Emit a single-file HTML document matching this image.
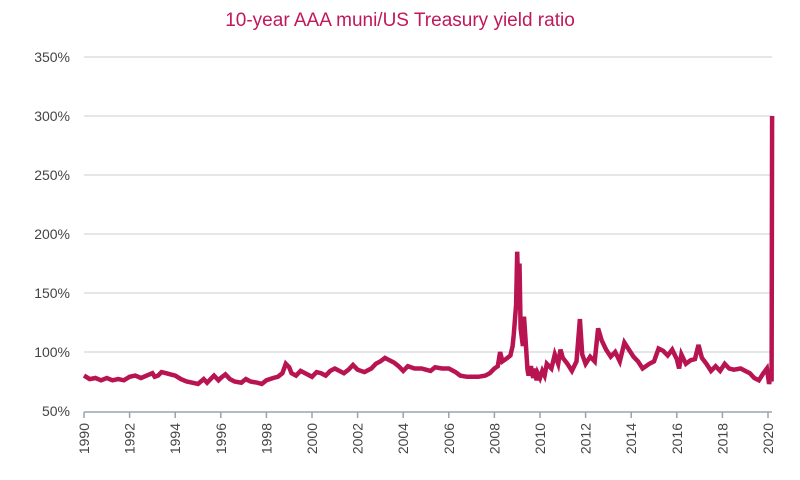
<!DOCTYPE html>
<html><head><meta charset="utf-8"><style>
body{margin:0;background:#fff;}
svg{display:block;font-family:"Liberation Sans",sans-serif;}
</style></head><body>
<svg id="chart" width="800" height="480" viewBox="0 0 800 480">
<text x="400" y="26" text-anchor="middle" font-size="19" fill="#c0185a">10-year AAA muni/US Treasury yield ratio</text>
<g id="grid"></g><g id="yaxis"></g><g id="xaxis"></g><g id="series"></g>
</svg>
<script>
const years=[1990,1990.25,1990.5,1990.75,1991,1991.25,1991.5,1991.75,1992,1992.25,1992.5,1992.75,1993,1993.1,1993.25,1993.4,1993.6,1993.8,1994,1994.25,1994.5,1994.75,1995,1995.25,1995.4,1995.7,1995.9,1996,1996.2,1996.4,1996.6,1996.9,1997.1,1997.3,1997.6,1997.8,1998,1998.3,1998.5,1998.7,1998.85,1999,1999.1,1999.3,1999.5,1999.7,2000,2000.2,2000.4,2000.6,2000.8,2001,2001.2,2001.4,2001.6,2001.8,2002,2002.3,2002.6,2002.8,2003,2003.2,2003.4,2003.6,2003.8,2004,2004.2,2004.5,2004.8,2005,2005.2,2005.4,2005.7,2006,2006.3,2006.5,2006.8,2007,2007.3,2007.6,2007.8,2008,2008.15,2008.25,2008.35,2008.5,2008.7,2008.8,2008.85,2008.95,2009,2009.05,2009.1,2009.15,2009.25,2009.3,2009.35,2009.45,2009.5,2009.6,2009.7,2009.75,2009.85,2009.9,2010.0,2010.1,2010.2,2010.3,2010.5,2010.65,2010.8,2010.9,2011,2011.2,2011.4,2011.6,2011.75,2011.85,2012,2012.2,2012.4,2012.55,2012.7,2012.9,2013.1,2013.3,2013.5,2013.7,2013.9,2014.1,2014.3,2014.5,2014.8,2015,2015.2,2015.4,2015.6,2015.8,2016,2016.1,2016.2,2016.4,2016.6,2016.8,2016.95,2017.1,2017.3,2017.5,2017.7,2017.9,2018.1,2018.3,2018.5,2018.8,2019,2019.2,2019.4,2019.6,2019.8,2019.95,2020.05,2020.12,2020.16,2020.18];
const ratios=[80,77,78,76,78,76,77,76,79,80,78,80,82,79,80,83,82,81,80,77,75,74,73,77,74,80,76,78,81,77,75,74,77,75,74,73,76,78,79,82,90,87,82,80,84,82,79,83,82,80,84,86,84,82,85,89,85,83,86,90,92,95,93,91,88,84,88,86,86,85,84,87,86,86,83,80,79,79,79,80,82,86,88,100,92,94,97,105,115,140,185,150,175,120,105,130,115,85,80,88,78,86,76,82,78,84,80,90,86,98,90,102,95,90,84,92,128,98,90,96,92,120,110,102,96,100,92,108,102,96,92,86,90,92,103,101,97,102,94,86,98,90,93,94,106,95,90,84,88,84,90,86,85,86,84,82,78,76,82,86,73,80,75,300];
const yTicks=[50,100,150,200,250,300,350];
const xTicks=[1990,1992,1994,1996,1998,2000,2002,2004,2006,2008,2010,2012,2014,2016,2018,2020];
const NS="http://www.w3.org/2000/svg";
const xS=y=>84+(y-1990)*(684/30);
const yS=v=>411-(v-50)*(59/50);
function mk(t,a,p){const e=document.createElementNS(NS,t);for(const k in a)e.setAttribute(k,a[k]);p.appendChild(e);return e;}
const grid=document.getElementById('grid'),ya=document.getElementById('yaxis'),xa=document.getElementById('xaxis'),se=document.getElementById('series');
yTicks.forEach(v=>{
 if(v>50){const l=mk('line',{x1:84,x2:772,y1:yS(v),y2:yS(v),stroke:'#c8cdd2','stroke-width':1},grid);
 
 }
 const t=mk('text',{x:70,y:yS(v)+5,'text-anchor':'end','font-size':14,fill:'#444'},ya);
 t.textContent=v+'%';
 
 
});
const ax=mk('line',{x1:84,x2:772,y1:412,y2:412,stroke:'#9aa3ab','stroke-width':1.5},xa);


xTicks.forEach(y=>{
 const x=xS(y);
 mk('line',{x1:x,x2:x,y1:412,y2:418,stroke:'#9aa3ab','stroke-width':1.5},xa);
 const t=mk('text',{transform:`translate(${x+5},423) rotate(-90)`,'text-anchor':'end','font-size':14,fill:'#444'},xa);
 t.textContent=y;
 
 
});
const d=years.map((y,i)=>(i?'L':'M')+xS(y).toFixed(1)+','+yS(ratios[i]).toFixed(1)).join('');
const p=mk('path',{d:d,fill:'none',stroke:'#b81452','stroke-width':4.5,'stroke-linejoin':'miter'},se);


</script>
</body></html>
